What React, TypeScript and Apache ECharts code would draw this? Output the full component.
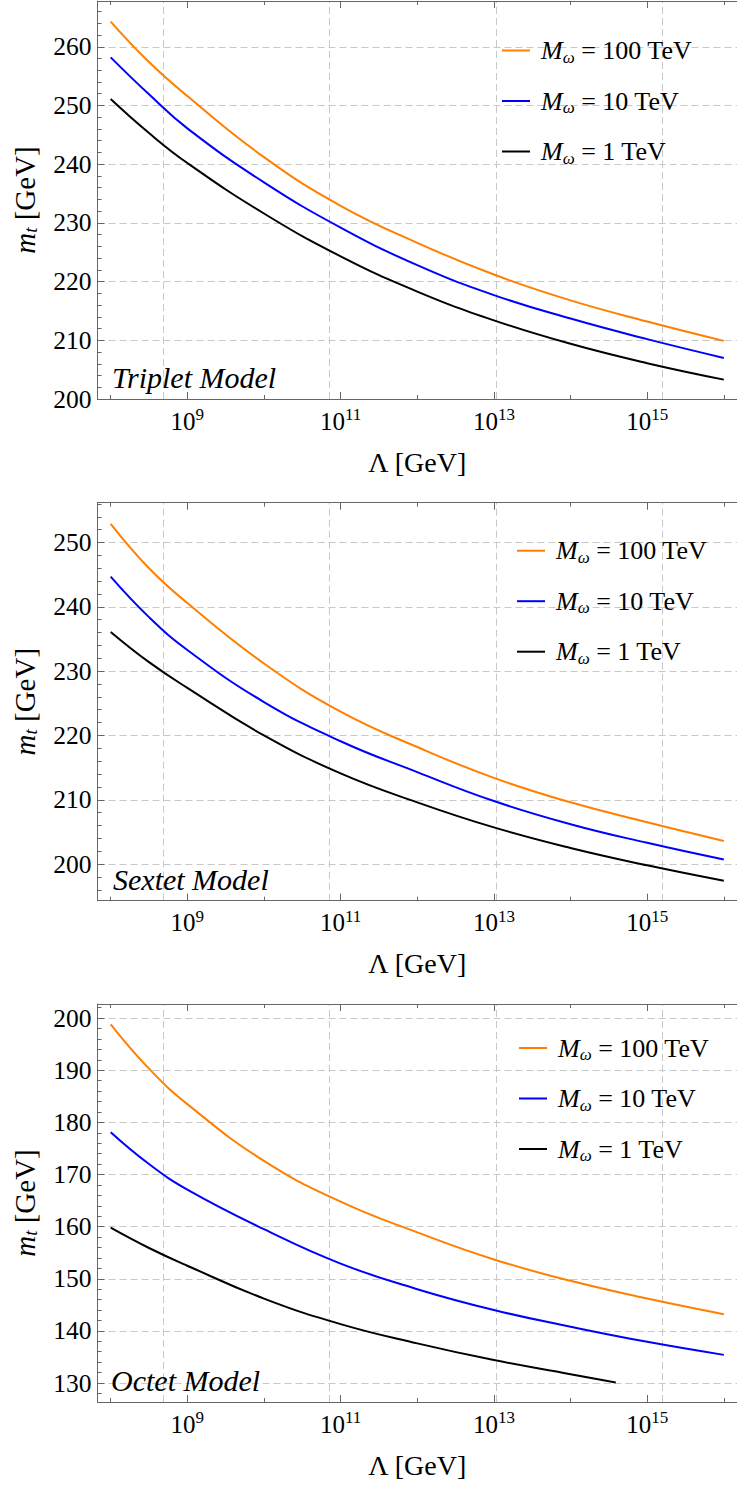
import React, { useEffect, useRef } from "react";
import * as echarts from "echarts";

// ---------- data ----------
// x values are log10(Λ / GeV)
const LOG_LAMBDA = [8, 8.5, 9, 10, 11, 12, 13, 14, 15, 16];
const LOG_LAMBDA_OCTET_1TEV = [8, 8.5, 9, 10, 11, 12, 13, 14, 14.59];

const SERIES_NAMES = ["M_ω = 100 TeV", "M_ω = 10 TeV", "M_ω = 1 TeV"];
const MODEL_LABELS = ["Triplet Model", "Sextet Model", "Octet Model"];

const TRIPLET_100TEV = [264.3, 257.4, 251.6, 241.2, 232.9, 226.6, 221.2, 216.8, 213.2, 209.9];
const TRIPLET_10TEV = [258.2, 251.9, 246.1, 236.9, 229.2, 222.8, 217.7, 213.7, 210.2, 207.0];
const TRIPLET_1TEV = [251.1, 245.3, 240.2, 231.6, 224.3, 218.3, 213.4, 209.4, 206.1, 203.3];

const SEXTET_100TEV = [252.9, 246.0, 240.6, 231.2, 223.7, 218.2, 213.4, 209.6, 206.5, 203.6];
const SEXTET_10TEV = [244.7, 238.4, 233.3, 225.2, 219.1, 214.3, 209.8, 206.2, 203.3, 200.7];
const SEXTET_1TEV = [236.1, 231.4, 227.4, 220.0, 214.1, 209.6, 205.7, 202.5, 199.8, 197.4];

const OCTET_100TEV = [198.8, 190.3, 183.5, 172.6, 164.8, 158.9, 153.7, 149.6, 146.2, 143.2];
const OCTET_10TEV = [178.1, 172.0, 167.1, 159.5, 152.9, 148.0, 144.0, 140.8, 137.9, 135.4];
const OCTET_1TEV = [159.8, 155.9, 152.5, 146.2, 141.3, 137.6, 134.4, 131.7, 130.1];

// tick values
const TRIPLET_Y_TICKS = [200, 210, 220, 230, 240, 250, 260];
const SEXTET_Y_TICKS = [200, 210, 220, 230, 240, 250];
const OCTET_Y_TICKS = [130, 140, 150, 160, 170, 180, 190, 200];
const X_LABEL_EXP = [9, 11, 13, 15];
const X_MINOR_EXP = [8, 10, 12, 14, 16];
// vertical grid lines at Λ = e^n
const GRID_LN_LAMBDA = [20, 25, 30, 35];

// axis ranges (with plot padding)
const Y_MIN = [200, 194.3, 126.36];
const Y_MAX = [267.8, 256.2, 202.7];
const X_MIN_EXP = 7.828;
const X_MAX_EXP = 16.172;

const PANEL_SERIES = [
  [TRIPLET_100TEV, TRIPLET_10TEV, TRIPLET_1TEV],
  [SEXTET_100TEV, SEXTET_10TEV, SEXTET_1TEV],
  [OCTET_100TEV, OCTET_10TEV, OCTET_1TEV],
];
const PANEL_X = [
  [LOG_LAMBDA, LOG_LAMBDA, LOG_LAMBDA],
  [LOG_LAMBDA, LOG_LAMBDA, LOG_LAMBDA],
  [LOG_LAMBDA, LOG_LAMBDA, LOG_LAMBDA_OCTET_1TEV],
];
const PANEL_Y_TICKS = [TRIPLET_Y_TICKS, SEXTET_Y_TICKS, OCTET_Y_TICKS];

// ---------- layout / style ----------
const LAYOUT = [
  { top: 1, legendLeft: 502, legendTop: 37.5, labelLeft: 112, labelTop: 362 },
  { top: 502.7, legendLeft: 517, legendTop: 537.7, labelLeft: 113, labelTop: 864.8 },
  { top: 1004, legendLeft: 519, legendTop: 1035, labelLeft: 111, labelTop: 1365.5 },
];
const COLORS = ["#ff8000", "#0000ff", "#000000"];
const FONT = "Liberation Serif";
const FRAME = "#666666";
const GRID_COLOR = "#c8c8c8";
const GRID_LEFT = 97.5;
const GRID_WIDTH = 646;
const GRID_HEIGHT = 398;

function buildOption() {
  const grids: any[] = [];
  const xAxes: any[] = [];
  const yAxes: any[] = [];
  const series: any[] = [];
  const legends: any[] = [];
  const titles: any[] = [];

  const majorVals = X_LABEL_EXP.map((e) => Math.pow(10, e));
  const minorVals = X_MINOR_EXP.map((e) => Math.pow(10, e));
  const frameLine = { color: FRAME, width: 1 };

  PANEL_SERIES.forEach((panel, k) => {
    const L = LAYOUT[k];
    grids.push({ left: GRID_LEFT, top: L.top, width: GRID_WIDTH, height: GRID_HEIGHT, show: false });

    const base = {
      type: "log",
      logBase: 10,
      gridIndex: k,
      min: Math.pow(10, X_MIN_EXP),
      max: Math.pow(10, X_MAX_EXP),
      z: 10,
      splitLine: { show: false },
      minorTick: { show: false },
      minorSplitLine: { show: false },
    };
    xAxes.push({
      ...base,
      position: "bottom",
      axisLine: { show: true, onZero: false, lineStyle: frameLine },
      axisTick: { show: true, inside: true, length: 7, customValues: majorVals, lineStyle: frameLine },
      axisLabel: {
        show: true,
        customValues: majorVals,
        margin: 7,
        fontFamily: FONT,
        formatter: (v: number) => `{b|10}{p|${Math.round(Math.log10(v))}}`,
        rich: {
          b: { fontFamily: FONT, fontSize: 25, lineHeight: 30, color: "#000" },
          p: { fontFamily: FONT, fontSize: 17, lineHeight: 14, verticalAlign: "top", color: "#000" },
        },
      },
      name: "Λ [GeV]",
      nameLocation: "middle",
      nameGap: 48,
      nameTextStyle: { fontFamily: FONT, fontSize: 28, lineHeight: 30, color: "#000" },
    });
    xAxes.push({
      ...base,
      position: "bottom",
      axisLine: { show: false },
      axisTick: { show: true, inside: true, length: 4, customValues: minorVals, lineStyle: frameLine },
      axisLabel: { show: false },
    });
    xAxes.push({
      ...base,
      position: "top",
      axisLine: { show: true, onZero: false, lineStyle: frameLine },
      axisTick: { show: true, inside: true, length: 7, customValues: majorVals, lineStyle: frameLine },
      axisLabel: { show: false },
    });
    xAxes.push({
      ...base,
      position: "top",
      axisLine: { show: false },
      axisTick: { show: true, inside: true, length: 4, customValues: minorVals, lineStyle: frameLine },
      axisLabel: { show: false },
    });

    const yTicks = PANEL_Y_TICKS[k];
    yAxes.push({
      type: "value",
      gridIndex: k,
      position: "left",
      min: Y_MIN[k],
      max: Y_MAX[k],
      minInterval: 10,
      maxInterval: 10,
      z: 10,
      axisLine: { show: true, onZero: false, lineStyle: frameLine },
      axisTick: { show: true, inside: true, length: 7, customValues: yTicks, lineStyle: frameLine },
      minorTick: { show: true, splitNumber: 5, length: 4, lineStyle: frameLine },
      splitLine: { show: false },
      minorSplitLine: { show: false },
      axisLabel: { customValues: yTicks, margin: 6, fontFamily: FONT, fontSize: 25.5, color: "#000" },
      name: "{i|m}{s|t}{r| [GeV]}",
      nameLocation: "middle",
      nameGap: 58,
      nameRotate: 90,
      nameTextStyle: {
        fontFamily: FONT,
        fontSize: 29,
        color: "#000",
        rich: {
          i: { fontFamily: FONT, fontStyle: "italic", fontSize: 29, lineHeight: 30, color: "#000" },
          s: { fontFamily: FONT, fontStyle: "italic", fontSize: 19, lineHeight: 14, verticalAlign: "bottom", color: "#000" },
          r: { fontFamily: FONT, fontSize: 29, lineHeight: 30, color: "#000" },
        },
      },
    });

    // grid lines, drawn behind the curves
    series.push({
      type: "line",
      xAxisIndex: 4 * k,
      yAxisIndex: k,
      data: [],
      z: 1,
      silent: true,
      markLine: {
        z: 1,
        silent: true,
        animation: false,
        symbol: ["none", "none"],
        label: { show: false },
        emphasis: { disabled: true },
        lineStyle: { color: GRID_COLOR, width: 1, type: [7, 4] },
        data: [
          ...GRID_LN_LAMBDA.map((n) => ({ xAxis: Math.exp(n) })),
          ...yTicks.map((v) => ({ yAxis: v })),
        ],
      },
    });

    panel.forEach((vals, i) => {
      const xs = PANEL_X[k][i];
      series.push({
        name: SERIES_NAMES[i],
        type: "line",
        xAxisIndex: 4 * k,
        yAxisIndex: k,
        data: vals.map((v, j) => [Math.pow(10, xs[j]), v]),
        showSymbol: false,
        symbol: "none",
        smooth: 0.45,
        silent: true,
        z: 3,
        lineStyle: { color: COLORS[i], width: 2 },
        itemStyle: { color: COLORS[i] },
      });
    });

    legends.push({
      data: SERIES_NAMES,
      orient: "vertical",
      left: L.legendLeft,
      top: L.legendTop,
      padding: 0,
      itemGap: 22.5,
      itemWidth: 28,
      itemHeight: 2,
      icon: "rect",
      selectedMode: false,
      formatter: (name: string) => {
        const rest = name.split("=")[1];
        return `{i|M}{s|ω}{r| =${rest}}`;
      },
      textStyle: {
        fontFamily: FONT,
        fontSize: 26,
        color: "#000",
        rich: {
          i: { fontFamily: FONT, fontStyle: "italic", fontSize: 26, lineHeight: 30, color: "#000", padding: [0, 0, 0, 6] },
          s: { fontFamily: FONT, fontStyle: "italic", fontSize: 17, lineHeight: 14, verticalAlign: "bottom", color: "#000" },
          r: { fontFamily: FONT, fontSize: 26, lineHeight: 30, color: "#000" },
        },
      },
    });

    titles.push({
      text: MODEL_LABELS[k],
      left: L.labelLeft,
      top: L.labelTop,
      padding: 0,
      textStyle: {
        fontFamily: FONT,
        fontStyle: "italic",
        fontWeight: "normal",
        fontSize: 30,
        lineHeight: 30,
        color: "#000",
      },
    });
  });

  return {
    animation: false,
    backgroundColor: "#ffffff",
    title: titles,
    legend: legends,
    grid: grids,
    xAxis: xAxes,
    yAxis: yAxes,
    series,
  };
}

export default function App() {
  const ref = useRef<HTMLDivElement>(null);
  useEffect(() => {
    if (!ref.current) return;
    const chart = echarts.init(ref.current, null, { renderer: "svg" });
    chart.setOption(buildOption() as any);
    return () => chart.dispose();
  }, []);
  return (
    <div
      ref={ref}
      style={{ position: "absolute", left: 0, top: 0, width: 737, height: 1486, background: "#fff" }}
    />
  );
}
